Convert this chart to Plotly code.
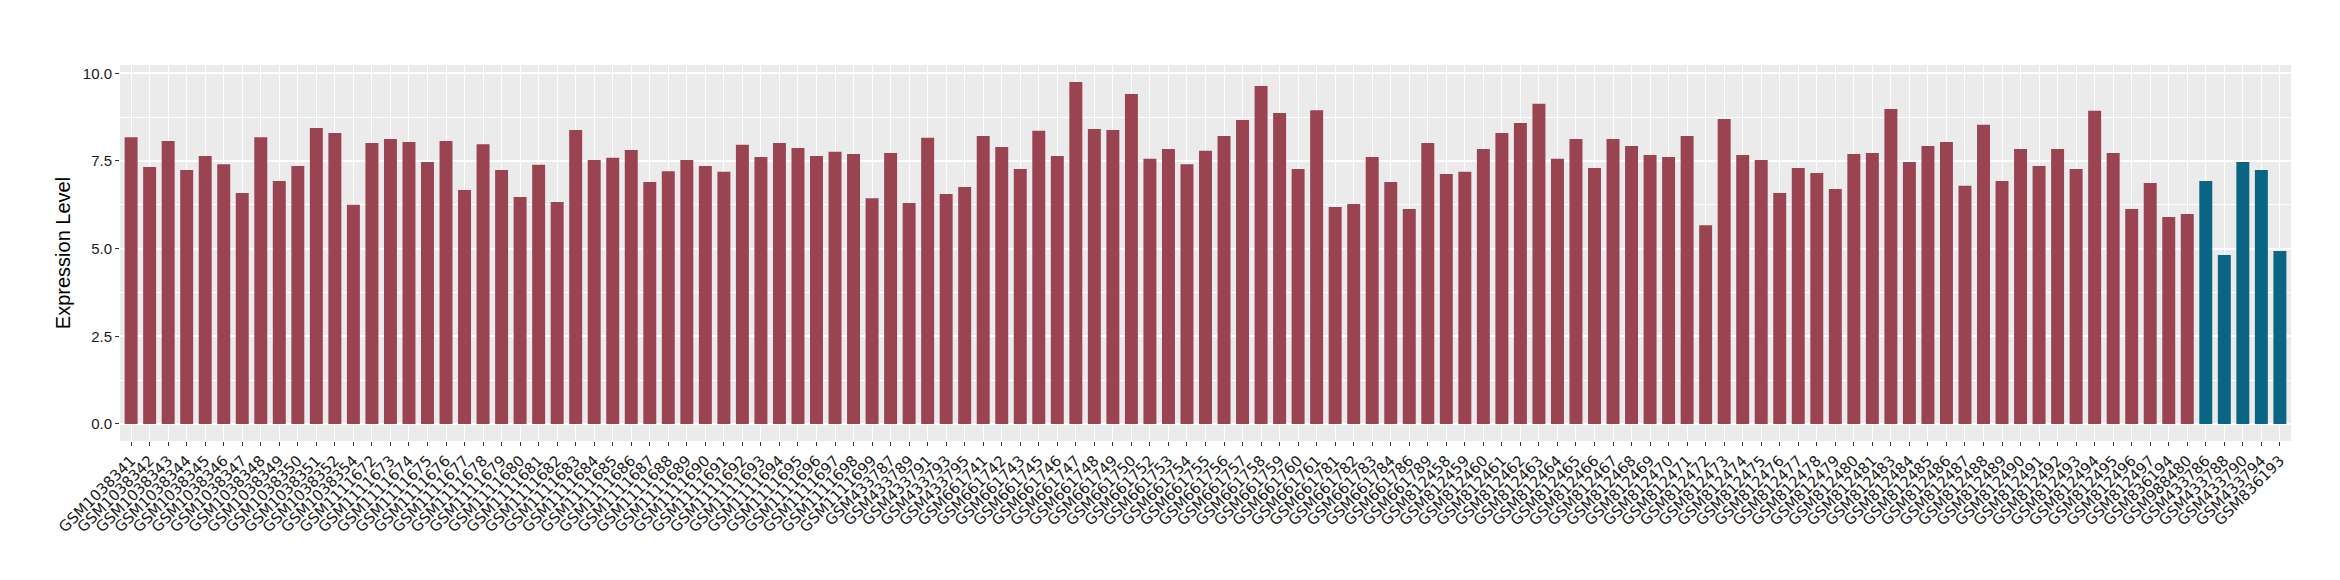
import plotly.graph_objects as go

samples = [
    "GSM1038341", "GSM1038342", "GSM1038343", "GSM1038344", "GSM1038345", "GSM1038346",
    "GSM1038347", "GSM1038348", "GSM1038349", "GSM1038350", "GSM1038351", "GSM1038352",
    "GSM1038354",
    "GSM1111672", "GSM1111673", "GSM1111674", "GSM1111675", "GSM1111676", "GSM1111677",
    "GSM1111678", "GSM1111679", "GSM1111680", "GSM1111681", "GSM1111682", "GSM1111683",
    "GSM1111684", "GSM1111685", "GSM1111686", "GSM1111687", "GSM1111688", "GSM1111689",
    "GSM1111690", "GSM1111691", "GSM1111692", "GSM1111693", "GSM1111694", "GSM1111695",
    "GSM1111696", "GSM1111697", "GSM1111698", "GSM1111699",
    "GSM433787", "GSM433789", "GSM433791", "GSM433793", "GSM433795",
    "GSM661741", "GSM661742", "GSM661743", "GSM661745", "GSM661746", "GSM661747",
    "GSM661748", "GSM661749", "GSM661750", "GSM661752", "GSM661753", "GSM661754",
    "GSM661755", "GSM661756", "GSM661757", "GSM661758", "GSM661759", "GSM661760",
    "GSM661761", "GSM661781", "GSM661782", "GSM661783", "GSM661784", "GSM661786",
    "GSM661789",
    "GSM812458", "GSM812459", "GSM812460", "GSM812461", "GSM812462", "GSM812463",
    "GSM812464", "GSM812465", "GSM812466", "GSM812467", "GSM812468", "GSM812469",
    "GSM812470", "GSM812471", "GSM812472", "GSM812473", "GSM812474", "GSM812475",
    "GSM812476", "GSM812477", "GSM812478", "GSM812479", "GSM812480", "GSM812481",
    "GSM812483", "GSM812484", "GSM812485", "GSM812486", "GSM812487", "GSM812488",
    "GSM812489", "GSM812490", "GSM812491", "GSM812492", "GSM812493", "GSM812494",
    "GSM812495", "GSM812496", "GSM812497",
    "GSM836194", "GSM988480",
    "GSM433786", "GSM433788", "GSM433790", "GSM433794", "GSM836193",
]

expression = [
    8.18, 7.33, 8.07, 7.24, 7.64, 7.41, 6.59, 8.18, 6.93, 7.36, 8.44, 8.30, 6.25,
    8.01, 8.13, 8.04, 7.47, 8.07, 6.67, 7.98, 7.24, 6.47, 7.39, 6.33, 8.38, 7.53,
    7.59, 7.81, 6.90, 7.21, 7.53, 7.36, 7.19, 7.96, 7.61, 8.01, 7.87, 7.64, 7.76,
    7.70, 6.44,
    7.73, 6.30, 8.16, 6.56, 6.76,
    8.21, 7.90, 7.27, 8.36, 7.64, 9.75, 8.41, 8.38, 9.41, 7.56, 7.84, 7.41, 7.79,
    8.21, 8.67, 9.64, 8.87, 7.27, 8.95, 6.19, 6.27, 7.61, 6.90, 6.13, 8.01,
    7.13, 7.19, 7.84, 8.30, 8.58, 9.13, 7.56, 8.13, 7.30, 8.13, 7.93, 7.67, 7.61,
    8.21, 5.67, 8.70, 7.67, 7.53, 6.59, 7.30, 7.16, 6.70, 7.70, 7.73,
    8.98, 7.47, 7.93, 8.04, 6.79, 8.53, 6.93, 7.84, 7.36, 7.84, 7.27, 8.93, 7.73,
    6.13, 6.87,
    5.90, 5.99,
    6.93, 4.82, 7.47, 7.24, 4.93,
]

groups = ["A"] * 112 + ["B"] * 5
group_colors = {"A": "#9A4452", "B": "#0A6585"}

y_ticks = [0.0, 2.5, 5.0, 7.5, 10.0]

fig = go.Figure(
    go.Bar(
        x=samples,
        y=expression,
        marker=dict(color=[group_colors[g] for g in groups], line=dict(width=0)),
        width=0.7,
        showlegend=False,
    )
)

fig.update_layout(
    width=2340,
    height=580,
    margin=dict(l=112, r=57, t=57, b=147),
    paper_bgcolor="white",
    plot_bgcolor="#EBEBEB",
    xaxis=dict(
        type="category",
        categoryorder="array",
        categoryarray=samples,
        range=[-0.6, len(samples) - 0.4],
        tickangle=-45,
        tickfont=dict(family="DejaVu Sans", size=15, color="#1a1a1a"),
        ticks="outside",
        ticklen=4,
        tickcolor="#333333",
        tickwidth=1,
        showgrid=True,
        gridcolor="white",
        gridwidth=1.3,
        zeroline=False,
        showline=False,
        automargin=False,
    ),
    yaxis=dict(
        range=[-0.4875, 10.2375],
        tickvals=y_ticks,
        ticktext=[f"{v:.1f}" for v in y_ticks],
        tickfont=dict(family="Liberation Sans", size=15, color="#1a1a1a"),
        ticks="outside",
        ticklen=4,
        tickcolor="#333333",
        tickwidth=1,
        showgrid=True,
        gridcolor="white",
        gridwidth=1.5,
        minor=dict(dtick=1.25, tick0=0, showgrid=True, gridcolor="white", gridwidth=0.8, ticks=""),
        zeroline=False,
        showline=False,
        automargin=False,
        title=dict(text="Expression Level", font=dict(family="Liberation Sans", size=20, color="black"), standoff=6),
    ),
)

fig.write_html("out.html")
